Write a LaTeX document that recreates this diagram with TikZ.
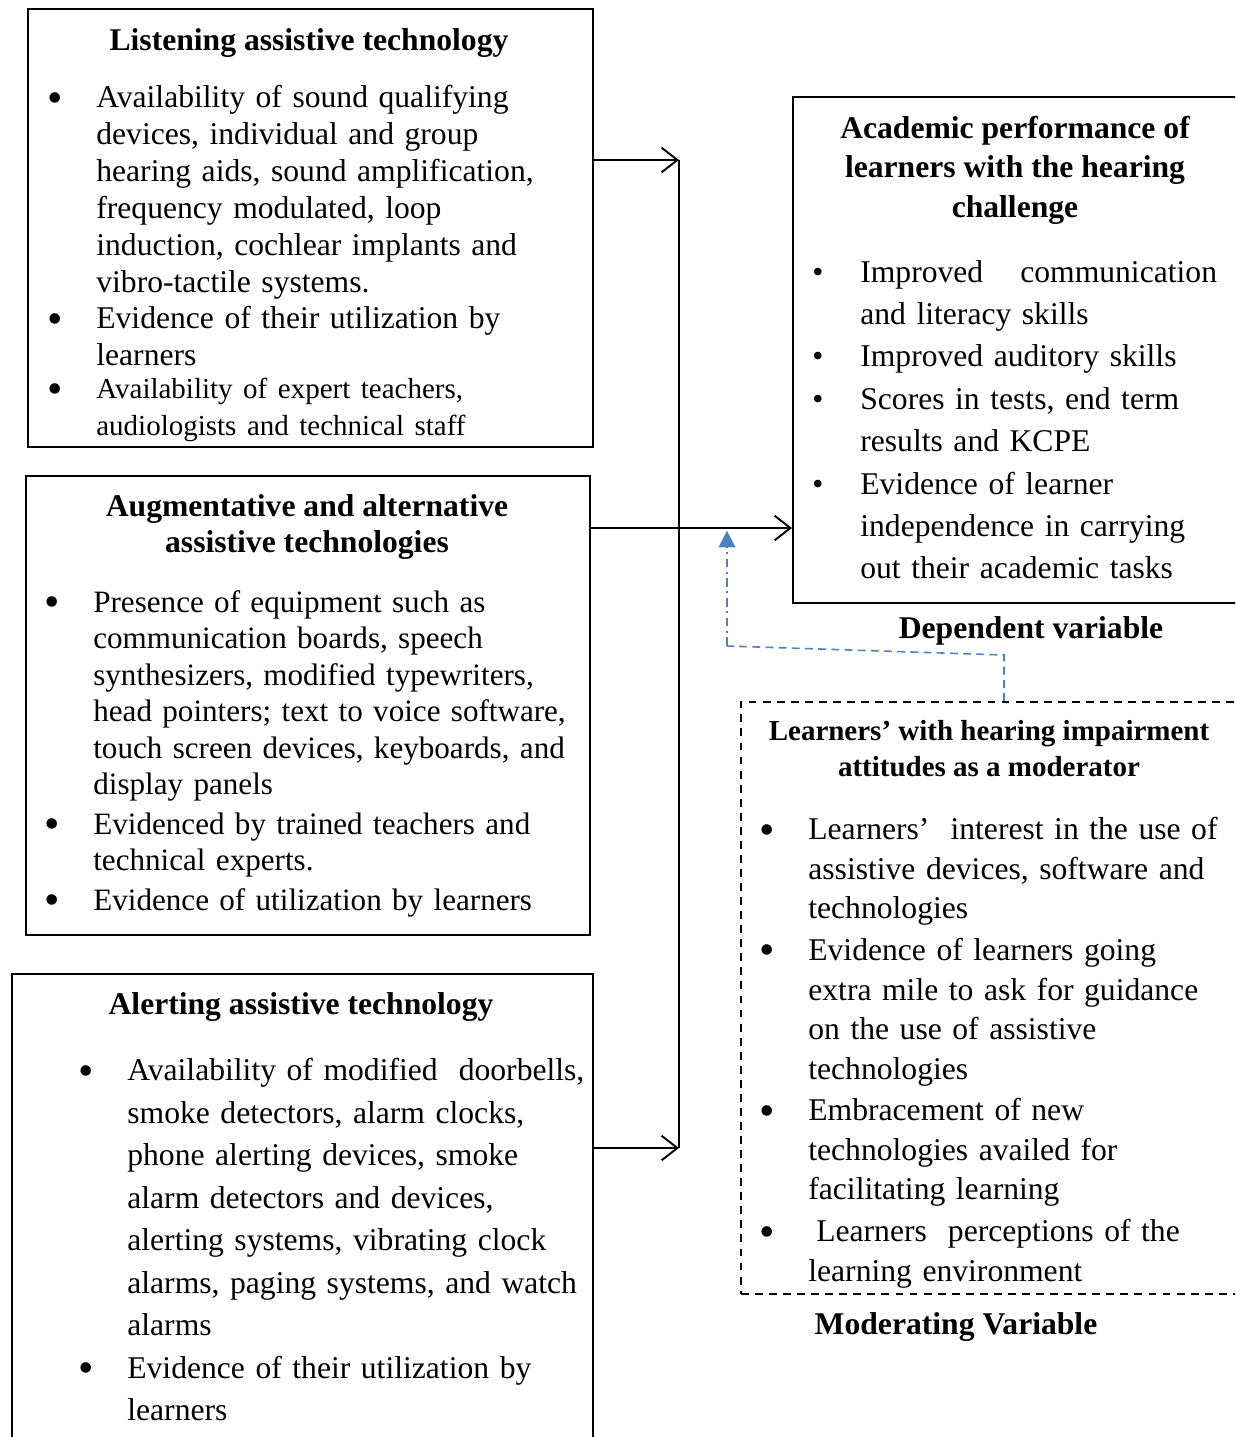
\documentclass[tikz,border=0pt]{standalone}
\usepackage{fontspec}
\setmainfont{Liberation Serif}
\usetikzlibrary{arrows.meta}
\definecolor{modblue}{HTML}{4F81BD}
\newcommand{\bitem}{\makebox[0pt][r]{{\fontsize{25}{25}\selectfont\raisebox{-2.5pt}{\textbullet}}\hspace{19pt}}}
\newcommand{\sitem}{\makebox[0pt][r]{{\fontsize{18}{18}\selectfont\textbullet}\hspace{21pt}}}
\tikzset{
  box/.style={draw, line width=1pt, anchor=north west, inner sep=0pt},
  dbox/.style={box, dash pattern=on 4.5pt off 3.5pt},
  body/.style={anchor=north west, inner sep=0pt, align=left, text width=300pt},
  ttl/.style={inner sep=0pt, align=center, font=\bfseries\fontsize{18}{20.4}\selectfont},
  lbl/.style={inner sep=0pt, font=\bfseries\fontsize{18}{21}\selectfont},
  arr/.style={line width=1.1pt, -{Straight Barb[length=9pt,width=14pt,line width=1.1pt]}},
  trunk/.style={line width=1.6pt},
  modline/.style={draw=modblue, line width=0.9pt, dash pattern=on 4.5pt off 3pt},
  modarr/.style={draw=modblue, line width=0.9pt, dash pattern=on 5pt off 2.5pt on 1.2pt off 2.5pt, -{Triangle[length=9.5pt,width=9.5pt]}}
}
\begin{document}
\begin{tikzpicture}[x=0.02cm,y=-0.02cm]
\useasboundingbox (0,0) rectangle (1235,1437);
\clip (0,0) rectangle (1235,1437);
% boxes
\node[box, minimum width={565*0.02cm}, minimum height={438*0.02cm}] (b1) at (27,8) {};
\node[box, minimum width={564*0.02cm}, minimum height={459*0.02cm}] (b2) at (25,475) {};
\node[box, minimum width={581*0.02cm}, minimum height={490*0.02cm}] (b3) at (11,973) {};
\node[box, minimum width={470*0.02cm}, minimum height={506*0.02cm}] (b4) at (792,96) {};
\node[dbox, minimum width={520*0.02cm}, minimum height={592*0.02cm}] (b5) at (740,701) {};
% box 1
\node[ttl] (t1) at (309,43) {Listening assistive technology};
\node[body, font=\fontsize{18}{21}\selectfont] (x1) at (96,85) {%
\bitem Availability of sound qualifying\\
devices, individual and group\\
hearing aids, sound amplification,\\
frequency modulated, loop\\
induction, cochlear implants and\\
vibro-tactile systems.\\
\bitem Evidence of their utilization by\\
learners\\
\fontsize{16.5}{18.7}\selectfont\bitem Availability of expert teachers,\\
audiologists and technical staff};
% box 2
\node[ttl] (t2) at (307,527) {Augmentative and alternative\\assistive technologies};
\node[body, font=\fontsize{17.7}{20.75}\selectfont] (x2) at (93,590) {%
\bitem Presence of equipment such as\\
communication boards, speech\\
synthesizers, modified typewriters,\\
head pointers; text to voice software,\\
touch screen devices, keyboards, and\\
display panels\\[2pt]
\bitem Evidenced by trained teachers and\\
technical experts.\\[1.5pt]
\bitem Evidence of utilization by learners};
% box 3
\node[ttl] (t3) at (301,1007) {Alerting assistive technology};
\node[body, font=\fontsize{18}{24.2}\selectfont] (x3) at (127,1058) {%
\bitem Availability of modified\ \ doorbells,\\
smoke detectors, alarm clocks,\\
phone alerting devices, smoke\\
alarm detectors and devices,\\
alerting systems, vibrating clock\\
alarms, paging systems, and watch\\
alarms\\
\bitem Evidence of their utilization by\\
learners};
% right box
\node[ttl, font=\bfseries\fontsize{18}{22.4}\selectfont] (t4) at (1015,170) {Academic performance of\\learners with the hearing\\challenge};
\node[body, font=\fontsize{18}{24.1}\selectfont] (x4) at (860,260) {%
\sitem\hbox to 203pt{Improved\hfill communication}\\
and literacy skills\\
\sitem Improved auditory skills\\
\sitem Scores in tests, end term\\
results and KCPE\\
\sitem Evidence of learner\\
independence in carrying\\
out their academic tasks};
\node[lbl] (l4) at (1031,631) {Dependent variable};
% dashed box
\node[ttl, font=\bfseries\fontsize{16.5}{20.4}\selectfont] (t5) at (989,749) {Learners’ with hearing impairment\\attitudes as a moderator};
\node[body, font=\fontsize{18}{22.5}\selectfont] (x5) at (808,817) {%
\bitem Learners'\ \ interest in the use of\\
assistive devices, software and\\
technologies\\[1.3pt]
\bitem Evidence of learners going\\
extra mile to ask for guidance\\
on the use of assistive\\
technologies\\[1.3pt]
\bitem Embracement of new\\
technologies availed for\\
facilitating learning\\[1.3pt]
\bitem\hspace{4.5pt}Learners\ \ perceptions of the\\
learning environment};
\node[lbl] (l5) at (956,1327) {Moderating Variable};
% connectors
\coordinate (jt) at (679,160);
\coordinate (jb) at (679,1148);
\coordinate (jm) at (792,528);
\coordinate (bm1) at (1004,655);
\coordinate (bm2) at (727,646);
\draw[trunk] (jt) -- (jb);
\draw[arr] (b1.east |- jt) -- (jt);
\draw[arr] (b3.east |- jb) -- (jb);
\draw[arr] (b2.east |- jm) -- (b4.west |- jm);
\draw[modline] (b5.north -| bm1) -- (bm1) -- (bm2);
\draw[modarr] (bm2) -- ([yshift=-1.5pt]bm2 |- jm);
\end{tikzpicture}
\end{document}
